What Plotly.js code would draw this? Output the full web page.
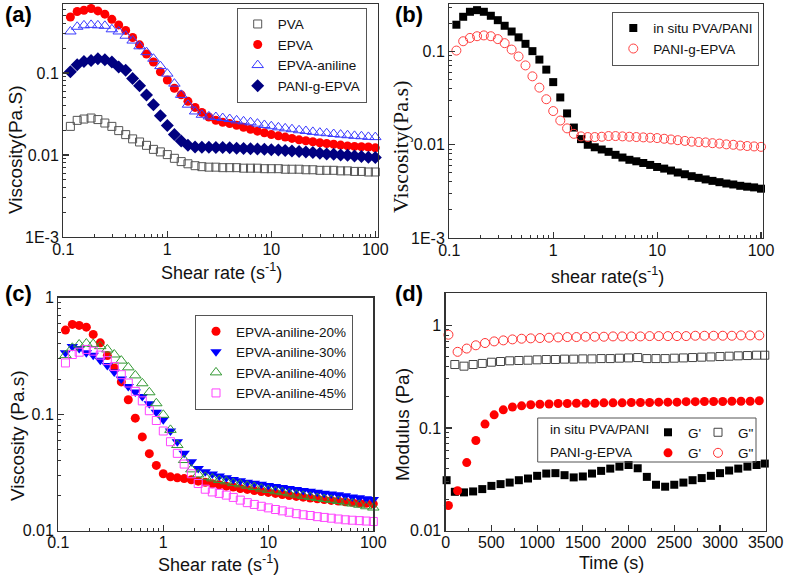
<!DOCTYPE html>
<html><head><meta charset="utf-8">
<script src="https://cdn.plot.ly/plotly-3.0.1.min.js"></script>
<style>html,body{margin:0;padding:0;background:#fff}#chart{width:787px;height:578px}</style>
</head><body><div id="chart"></div>
<script>
// ---------------- data ----------------
const shearRate = [0.117,0.136,0.158,0.185,0.215,0.251,0.293,0.341,0.398,0.464,0.541,0.631,0.736,0.858,1.0,
  1.17,1.36,1.58,1.85,2.15,2.51,2.93,3.41,3.98,4.64,5.41,6.31,7.36,8.58,10.0,
  11.7,13.6,15.8,18.5,21.5,25.1,29.3,34.1,39.8,46.4,54.1,63.1,73.6,85.8,100];

// panel (a)
const pvaVisc = [0.0223,0.0264,0.0274,0.0282,0.027,0.0245,0.0223,0.0198,0.0177,0.0157,0.0144,0.0131,0.0117,0.0109,0.0101,
  0.0091,0.0083,0.0078,0.0074,0.0072,0.0071,0.0071,0.0070,0.0070,0.0070,0.0069,0.0069,0.0069,0.0068,0.0068,
  0.0068,0.0067,0.0067,0.0067,0.0066,0.0066,0.0065,0.0065,0.0065,0.0064,0.0064,0.0063,0.0063,0.0062,0.0062];
const epvaVisc = [0.48,0.56,0.58,0.61,0.57,0.52,0.45,0.385,0.33,0.27,0.22,0.17,0.136,0.103,0.082,
  0.065,0.054,0.045,0.038,0.033,0.029,0.0264,0.025,0.0241,0.023,0.0217,0.0206,0.0195,0.0186,0.0177,
  0.0171,0.0165,0.0159,0.0153,0.0149,0.0145,0.0141,0.0138,0.0135,0.0132,0.0129,0.0127,0.0126,0.0125,0.0122];
const epvaAnilineVisc = [0.32,0.365,0.38,0.385,0.38,0.375,0.34,0.32,0.284,0.248,0.211,0.179,0.149,0.121,0.098,
  0.074,0.054,0.041,0.0339,0.0309,0.0295,0.029,0.0282,0.0274,0.0264,0.0257,0.025,0.0241,0.0232,0.0224,
  0.0217,0.0211,0.0206,0.020,0.0196,0.0191,0.0187,0.0184,0.018,0.0177,0.0174,0.0171,0.0169,0.0166,0.0165];
const paniGEpvaViscA = [0.103,0.126,0.138,0.142,0.149,0.145,0.136,0.118,0.108,0.0855,0.0697,0.0538,0.0408,0.030,0.0228,
  0.0177,0.0148,0.0131,0.0125,0.0124,0.0124,0.0123,0.0123,0.0122,0.0121,0.012,0.0119,0.0118,0.0117,0.0116,
  0.0115,0.0113,0.0112,0.011,0.0109,0.0107,0.0105,0.0103,0.0102,0.01,0.0099,0.0097,0.0096,0.0094,0.0093];

// panel (b)
const inSituVisc = [0.194,0.236,0.267,0.278,0.267,0.242,0.217,0.189,0.164,0.142,0.121,0.101,0.082,0.064,0.047,
  0.0322,0.0217,0.0153,0.0115,0.010,0.0094,0.0089,0.0084,0.0078,0.0073,0.0069,0.00665,0.00638,0.00608,0.00578,
  0.00555,0.00529,0.00504,0.00483,0.0046,0.00442,0.00425,0.0041,0.00397,0.00384,0.00375,0.00363,0.00355,0.00349,0.00338];
const paniGEpvaViscB = [0.1025,0.129,0.14,0.146,0.149,0.146,0.136,0.123,0.105,0.0885,0.071,0.0542,0.041,0.0308,0.023,
  0.0182,0.015,0.0131,0.0123,0.0121,0.0121,0.0122,0.0124,0.0124,0.0123,0.0122,0.0121,0.012,0.0119,0.0118,
  0.0116,0.0114,0.0112,0.011,0.0108,0.0107,0.0106,0.0104,0.0103,0.0101,0.01,0.0098,0.0097,0.0096,0.0095];

// panel (c)
const aniline20 = [0.526,0.589,0.577,0.558,0.483,0.409,0.318,0.249,0.189,0.133,0.0924,0.0638,0.0458,0.0363,0.0308,
  0.029,0.0284,0.028,0.0273,0.0266,0.026,0.0253,0.0248,0.0241,0.0237,0.023,0.0226,0.0221,0.0217,0.0213,
  0.0209,0.0204,0.02,0.0197,0.0194,0.0191,0.0188,0.0185,0.0182,0.018,0.0177,0.0175,0.0173,0.0172,0.017];
const aniline30 = [0.336,0.38,0.365,0.336,0.32,0.29,0.262,0.23,0.2,0.173,0.155,0.142,0.123,0.104,0.0894,
  0.0717,0.058,0.0461,0.039,0.0342,0.032,0.0306,0.0294,0.0284,0.0275,0.0268,0.0261,0.0255,0.025,0.0244,
  0.024,0.0235,0.023,0.0226,0.0221,0.0218,0.0214,0.021,0.0206,0.0203,0.0199,0.0195,0.0192,0.0188,0.0185];
const aniline40 = [0.321,0.371,0.396,0.404,0.40,0.383,0.359,0.325,0.288,0.252,0.215,0.184,0.154,0.124,0.0987,
  0.0733,0.0544,0.0404,0.0336,0.0304,0.029,0.0281,0.0272,0.0265,0.0256,0.025,0.0243,0.0237,0.023,0.0224,
  0.0218,0.0214,0.0209,0.0204,0.0199,0.0195,0.0191,0.0187,0.0184,0.018,0.0175,0.0171,0.0167,0.0162,0.0158];
const aniline45 = [0.275,0.325,0.34,0.359,0.347,0.321,0.288,0.256,0.218,0.185,0.157,0.13,0.107,0.0882,0.0717,
  0.058,0.0461,0.0373,0.0308,0.0254,0.0227,0.0215,0.0209,0.0202,0.0193,0.0183,0.0174,0.0168,0.0162,0.0157,
  0.0152,0.0148,0.0144,0.014,0.0137,0.0135,0.0132,0.013,0.0128,0.0126,0.0124,0.0123,0.0122,0.0121,0.012];

// panel (d)
const timeInSitu = [10,100,200,300,400,500,600,700,800,900,1000,1100,1200,1300,1400,1500,1600,1700,1800,1900,
  2000,2100,2200,2300,2400,2500,2600,2700,2800,2900,3000,3100,3200,3300,3400,3490];
const gPrimeInSitu = [0.031,0.0239,0.0236,0.0241,0.0254,0.0273,0.0284,0.0294,0.031,0.0322,0.0342,0.036,0.0363,0.0347,0.033,
  0.0337,0.036,0.0382,0.0402,0.042,0.0436,0.0405,0.0334,0.028,0.0268,0.028,0.0294,0.031,0.0325,0.0342,
  0.0363,0.0385,0.0402,0.042,0.0436,0.045];
const timeInSituLoss = [100,200,300,400,500,600,700,800,900,1000,1100,1200,1300,1400,1500,1600,1700,1800,1900,
  2000,2100,2200,2300,2400,2500,2600,2700,2800,2900,3000,3100,3200,3300,3400,3490];
const gDoublePrimeInSitu = [0.414,0.399,0.414,0.424,0.436,0.443,0.45,0.453,0.456,0.46,0.463,0.463,0.467,0.467,0.47,
  0.47,0.473,0.473,0.477,0.48,0.484,0.473,0.473,0.473,0.477,0.48,0.484,0.488,0.491,0.495,
  0.499,0.503,0.506,0.51,0.51];
const timePani = [30,130,230,330,430,530,630,730,830,930,1030,1130,1230,1330,1430,1530,1630,1730,1830,1930,
  2030,2130,2230,2330,2430,2530,2630,2730,2830,2930,3030,3130,3230,3330,3430];
const gPrimePani = [0.0176,0.0245,0.046,0.0755,0.109,0.134,0.15,0.16,0.164,0.168,0.17,0.171,0.173,0.173,0.174,
  0.174,0.174,0.1755,0.1755,0.1755,0.177,0.177,0.177,0.178,0.178,0.178,0.18,0.18,0.181,0.181,
  0.181,0.182,0.182,0.182,0.184];
const gDoublePrimePani = [0.807,0.55,0.592,0.637,0.67,0.695,0.711,0.727,0.738,0.744,0.749,0.755,0.76,0.766,0.766,
  0.772,0.772,0.772,0.777,0.777,0.777,0.777,0.783,0.783,0.783,0.783,0.783,0.789,0.789,0.789,
  0.789,0.789,0.795,0.795,0.795];

// tick labels
const shearTickVals = [0.1,1,10,100];
const shearTickText = ['0.1','1','10','100'];
const shearMinorVals = [0.2,0.3,0.4,0.5,0.6,0.7,0.8,0.9,2,3,4,5,6,7,8,9,20,30,40,50,60,70,80,90];
const viscTickValsAB = [0.001,0.01,0.1];
const viscTickTextAB = ['1E-3','0.01','0.1'];
const viscMinorAB = [0.002,0.003,0.004,0.005,0.006,0.007,0.008,0.009,0.02,0.03,0.04,0.05,0.06,0.07,0.08,0.09,0.2,0.3,0.4,0.5,0.6];
const decadeTickVals = [0.01,0.1,1];
const decadeTickText = ['0.01','0.1','1'];
const decadeMinor = [0.02,0.03,0.04,0.05,0.06,0.07,0.08,0.09,0.2,0.3,0.4,0.5,0.6,0.7,0.8,0.9,2];

// ---------------- layout helpers ----------------
const W = 787, H = 578;
const fx = p => p / W;
const fy = p => 1 - p / H;
const SANS = 'Arial, "Liberation Sans", sans-serif';
const SERIF = '"Times New Roman", "Liberation Serif", serif';
const AX = '#333333';

function axisBase(domain, type, range, anchor, isX) {
  const a = {
    domain: domain, type: type, range: range, anchor: anchor,
    showline: true, linecolor: AX, linewidth: 1.3, mirror: true,
    ticks: 'inside', ticklen: 6, tickwidth: 1.2, tickcolor: AX,
    showgrid: false, zeroline: false,
    tickfont: {family: SANS, size: 16, color: '#111'}
  };
  if (isX) a.ticklabelstandoff = -3;
  return a;
}
function logAxis(domain, range, anchor, tv, tt, mv, isX) {
  const a = axisBase(domain, 'log', range, anchor, isX);
  a.tickmode = 'array'; a.tickvals = tv; a.ticktext = tt;
  a.minor = {tickmode: 'array', tickvals: mv, ticks: 'inside', ticklen: 3, tickwidth: 1, tickcolor: AX};
  return a;
}

const msq = (c, s) => ({symbol: 'square', size: s || 8, color: c});
function tr(x, y, name, xa, ya, marker, legend) {
  return {x: x, y: y, name: name, xaxis: xa, yaxis: ya, type: 'scatter', mode: 'markers',
          marker: marker, legend: legend, cliponaxis: false};
}

const traces = [
  tr(shearRate, pvaVisc, 'PVA', 'x', 'y', {symbol: 'square-open', size: 8, color: '#555', line: {width: 1, color: '#555'}}, 'legend'),
  tr(shearRate, epvaVisc, 'EPVA', 'x', 'y', {symbol: 'circle', size: 9, color: '#ff0000'}, 'legend'),
  tr(shearRate, epvaAnilineVisc, 'EPVA-aniline', 'x', 'y', {symbol: 'triangle-up-open', size: 10, color: '#3a3aff', line: {width: 1, color: '#3a3aff'}}, 'legend'),
  tr(shearRate, paniGEpvaViscA, 'PANI-g-EPVA', 'x', 'y', {symbol: 'diamond', size: 10, color: '#000080'}, 'legend'),

  tr(shearRate, inSituVisc, 'in situ PVA/PANI', 'x2', 'y2', msq('#000000', 8), 'legend2'),
  tr(shearRate, paniGEpvaViscB, 'PANI-g-EPVA', 'x2', 'y2', {symbol: 'circle-open', size: 9, color: '#ff4040', line: {width: 1, color: '#ff4040'}}, 'legend2'),

  tr(shearRate, aniline20, 'EPVA-aniline-20%', 'x3', 'y3', {symbol: 'circle', size: 9, color: '#ff0000'}, 'legend3'),
  tr(shearRate, aniline30, 'EPVA-aniline-30%', 'x3', 'y3', {symbol: 'triangle-down', size: 10, color: '#0000ff'}, 'legend3'),
  tr(shearRate, aniline40, 'EPVA-aniline-40%', 'x3', 'y3', {symbol: 'triangle-up-open', size: 10, color: '#339933', line: {width: 1, color: '#339933'}}, 'legend3'),
  tr(shearRate, aniline45, 'EPVA-aniline-45%', 'x3', 'y3', {symbol: 'square-open', size: 8, color: '#ff44ff', line: {width: 1, color: '#ff44ff'}}, 'legend3'),

  tr(timeInSitu, gPrimeInSitu, "G'", 'x4', 'y4', msq('#000000', 8), 'legend4'),
  tr(timePani, gPrimePani, "G'", 'x4', 'y4', {symbol: 'circle', size: 9, color: '#ff0000'}, 'legend4'),
  tr(timeInSituLoss, gDoublePrimeInSitu, 'G"', 'x4', 'y4', {symbol: 'square-open', size: 8, color: '#444', line: {width: 1, color: '#444'}}, 'legend5'),
  tr(timePani, gDoublePrimePani, 'G"', 'x4', 'y4', {symbol: 'circle-open', size: 9, color: '#ff3333', line: {width: 1, color: '#ff3333'}}, 'legend5')
];

function legendBox(xpx, ypx, border) {
  return {x: fx(xpx), y: fy(ypx), xanchor: 'left', yanchor: 'top',
          bgcolor: border ? '#ffffff' : 'rgba(0,0,0,0)',
          bordercolor: '#555', borderwidth: border ? 1 : 0,
          font: {family: SANS, size: 13.5, color: '#111'}, itemsizing: 'trace', traceorder: 'normal'};
}

function ann(text, xpx, ypx, opts) {
  return Object.assign({text: text, x: fx(xpx), y: fy(ypx), xref: 'paper', yref: 'paper',
    showarrow: false, xanchor: 'center', yanchor: 'middle',
    font: {family: SANS, size: 18, color: '#111'}}, opts || {});
}

const layout = {
  width: W, height: H, margin: {l: 0, r: 0, t: 0, b: 0},
  paper_bgcolor: '#ffffff', plot_bgcolor: '#ffffff', showlegend: true,
  xaxis:  logAxis([fx(63.3), fx(378)], [-1, 2.026], 'y', shearTickVals, shearTickText, shearMinorVals, true),
  yaxis:  logAxis([fy(237), fy(4)], [-3, -0.16], 'x', viscTickValsAB, viscTickTextAB, viscMinorAB),
  xaxis2: logAxis([fx(449.3), fx(763)], [-1, 2.019], 'y2', shearTickVals, shearTickText, shearMinorVals, true),
  yaxis2: logAxis([fy(238), fy(4)], [-3, -0.49], 'x2', viscTickValsAB, viscTickTextAB, viscMinorAB),
  xaxis3: logAxis([fx(58.3), fx(373.3)], [-1, 2], 'y3', shearTickVals, shearTickText, shearMinorVals, true),
  yaxis3: logAxis([fy(530.7), fy(297.6)], [-2, 0], 'x3', decadeTickVals, decadeTickText, decadeMinor),
  xaxis4: Object.assign(axisBase([fx(445.7), fx(765.7)], 'linear', [0, 3500], 'y4', true),
            {tickmode: 'linear', tick0: 0, dtick: 500,
             minor: {dtick: 250, ticks: 'inside', ticklen: 3, tickwidth: 1, tickcolor: AX}}),
  yaxis4: logAxis([fy(530.7), fy(293.3)], [-2, 0.31], 'x4', decadeTickVals, decadeTickText, decadeMinor),
  legend:  legendBox(236.7, 7.7, true),
  legend2: legendBox(612.3, 11.7, true),
  legend3: legendBox(195, 315, true),
  legend4: legendBox(648, 417, false),
  legend5: legendBox(698, 417, false),
  shapes: [
    {type: 'rect', xref: 'paper', yref: 'paper', x0: fx(537.7), x1: fx(756), y0: fy(418), y1: fy(462),
     line: {color: '#555', width: 1}, fillcolor: 'rgba(0,0,0,0)'}
  ],
  annotations: [
    ann('<b>(a)</b>', 3, 15, {xanchor: 'left', font: {family: SANS, size: 22, color: '#000'}}),
    ann('<b>(b)</b>', 393, 15, {xanchor: 'left', font: {family: SANS, size: 22, color: '#000'}}),
    ann('<b>(c)</b>', 3, 293, {xanchor: 'left', font: {family: SANS, size: 22, color: '#000'}}),
    ann('<b>(d)</b>', 393, 293, {xanchor: 'left', font: {family: SANS, size: 22, color: '#000'}}),
    ann('Shear rate (s<sup>-1</sup>)', 221, 271),
    ann('Viscosity(Pa.S)', 15, 150, {textangle: -90, font: {family: SANS, size: 19, color: '#111'}}),
    ann('shear rate(s<sup>-1</sup>)', 607, 275),
    ann('Viscosity(Pa.s)', 400, 147, {textangle: -90, font: {family: SERIF, size: 22, color: '#111'}}),
    ann('Shear rate (s<sup>-1</sup>)', 218, 563),
    ann('Viscosity (Pa.s)', 17, 436, {textangle: -90, font: {family: SANS, size: 19, color: '#111'}}),
    ann('Time (s)', 611, 563),
    ann('Modulus (Pa)', 402, 425, {textangle: -90, font: {family: SANS, size: 19, color: '#111'}}),
    ann('in situ PVA/PANI', 547.7, 429, {xanchor: 'left', font: {family: SANS, size: 13.5, color: '#111'}}),
    ann('PANI-g-EPVA', 547.7, 452, {xanchor: 'left', font: {family: SANS, size: 13.5, color: '#111'}})
  ]
};

Plotly.newPlot('chart', traces, layout, {displayModeBar: false, staticPlot: true});
</script></body></html>
